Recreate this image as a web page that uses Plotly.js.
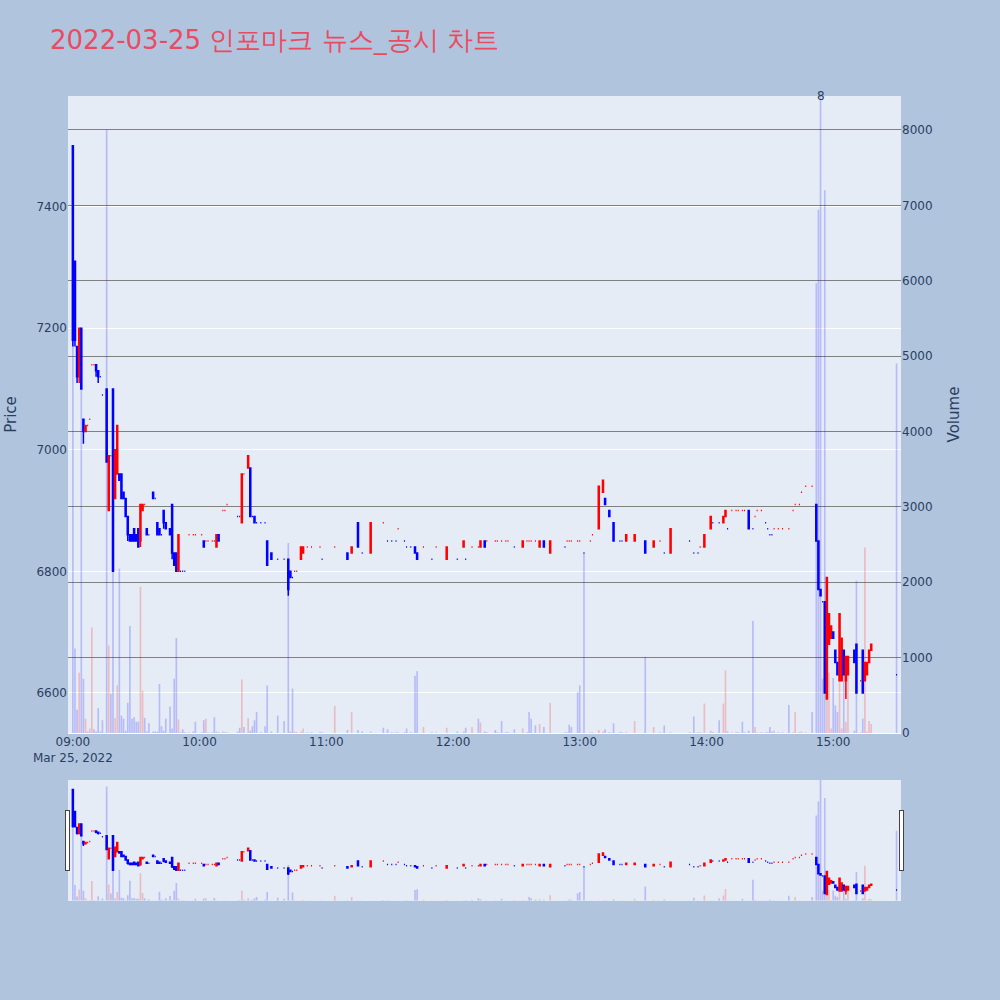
<!DOCTYPE html>
<html>
<head>
<meta charset="utf-8">
<script src="https://cdn.plot.ly/plotly-3.0.1.min.js"></script>
<style>html,body{margin:0;padding:0;background:#b0c4de}</style>
</head>
<body>
<div id="chart" style="width:1000px;height:1000px"></div>
<script>
// 1-minute bars, 2022-03-25
const day = '2022-03-25 ';

const times = [
  '09:00','09:01','09:02','09:03','09:04','09:05','09:06','09:07','09:08','09:09',
  '09:10','09:11','09:12','09:13','09:14','09:16','09:17','09:18','09:19','09:20',
  '09:21','09:22','09:23','09:24','09:25','09:26','09:27','09:28','09:29','09:30',
  '09:31','09:32','09:33','09:34','09:35','09:36','09:38','09:39','09:40','09:41',
  '09:42','09:43','09:44','09:46','09:47','09:48','09:49','09:50','09:51','09:52',
  '09:53','09:55','09:57','09:58','10:01','10:02','10:03','10:04','10:06','10:07',
  '10:08','10:09','10:11','10:12','10:13','10:18','10:19','10:20','10:21','10:23',
  '10:24','10:25','10:26','10:27','10:29','10:31','10:32','10:34','10:37','10:40',
  '10:42','10:43','10:44','10:45','10:46','10:48','10:49','10:51','10:53','10:57',
  '10:58','11:04','11:10','11:12','11:15','11:17','11:21','11:27','11:29','11:31',
  '11:33','11:34','11:37','11:38','11:40','11:42','11:43','11:46','11:50','11:52',
  '11:57','12:02','12:05','12:06','12:09','12:12','12:13','12:15','12:16','12:20',
  '12:21','12:23','12:25','12:26','12:29','12:33','12:35','12:36','12:37','12:39',
  '12:41','12:43','12:46','12:53','12:54','12:55','12:56','12:59','13:00','13:02',
  '13:05','13:06','13:09','13:11','13:12','13:14','13:16','13:19','13:20','13:22',
  '13:26','13:31','13:35','13:38','13:40','13:43','13:52','13:54','13:56','13:57',
  '13:59','14:02','14:03','14:06','14:08','14:09','14:10','14:12','14:14','14:15',
  '14:17','14:18','14:20','14:22','14:23','14:24','14:26','14:28','14:29','14:30',
  '14:31','14:32','14:34','14:36','14:39','14:41','14:42','14:44','14:45','14:47',
  '14:50','14:52','14:53','14:54','14:55','14:56','14:57','14:58','14:59','15:00',
  '15:01','15:02','15:03','15:04','15:05','15:06','15:07','15:10','15:11','15:13',
  '15:14','15:15','15:16','15:17','15:18','15:30'
];

const opens = [
  7500,7310,7170,7120,7200,7050,7030,7040,7050,7140,
  7140,7140,7130,7120,7090,7100,6900,6990,7100,6920,
  6960,6960,6960,6930,6920,6890,6860,6860,6870,6860,
  6870,6850,6900,6910,6870,6860,6930,6920,6880,6870,
  6860,6900,6880,6870,6910,6830,6830,6800,6800,6800,
  6800,6860,6860,6860,6860,6850,6850,6850,6850,6850,
  6840,6860,6900,6900,6910,6890,6890,6880,6960,6970,
  6970,6890,6890,6880,6880,6880,6850,6830,6820,6820,
  6820,6800,6790,6800,6800,6820,6830,6840,6840,6840,
  6820,6840,6830,6830,6880,6830,6830,6880,6850,6850,
  6850,6870,6850,6840,6840,6840,6830,6840,6820,6840,
  6820,6820,6840,6820,6840,6840,6840,6850,6850,6850,
  6850,6850,6850,6850,6840,6840,6850,6850,6850,6850,
  6840,6850,6830,6840,6850,6850,6850,6850,6850,6830,
  6850,6860,6870,6930,6920,6900,6880,6850,6850,6850,
  6850,6850,6840,6850,6830,6830,6850,6830,6830,6840,
  6840,6870,6880,6880,6880,6890,6870,6900,6900,6900,
  6900,6900,6900,6870,6890,6900,6900,6880,6870,6860,
  6860,6870,6870,6870,6870,6900,6910,6910,6930,6940,
  6940,6910,6850,6770,6750,6750,6590,6680,6690,6700,
  6670,6650,6620,6620,6670,6620,6630,6670,6680,6620,
  6670,6620,6630,6650,6670,6630
];

const highs = [
  7500,7310,7170,7200,7200,7050,7040,7040,7050,7140,
  7140,7140,7130,7120,7090,7100,6990,6990,7100,7000,
  7040,6960,6960,6930,6920,6890,6860,6860,6870,6860,
  6870,6910,6910,6910,6870,6860,6930,6920,6880,6870,
  6860,6900,6880,6870,6910,6830,6830,6860,6800,6800,
  6800,6860,6860,6860,6860,6850,6850,6850,6850,6850,
  6860,6860,6900,6900,6910,6890,6890,6960,6960,6990,
  6970,6890,6890,6880,6880,6880,6850,6830,6820,6820,
  6820,6800,6790,6800,6800,6840,6840,6840,6840,6840,
  6820,6840,6830,6840,6880,6830,6880,6880,6850,6850,
  6850,6870,6850,6840,6840,6840,6830,6840,6820,6840,
  6840,6820,6850,6820,6840,6840,6850,6850,6850,6850,
  6850,6850,6850,6850,6840,6850,6850,6850,6850,6850,
  6850,6850,6850,6840,6850,6850,6850,6850,6850,6830,
  6850,6860,6940,6950,6920,6900,6880,6850,6850,6860,
  6860,6850,6850,6850,6830,6870,6850,6830,6830,6840,
  6860,6890,6880,6880,6890,6900,6870,6900,6900,6900,
  6900,6900,6900,6870,6890,6900,6900,6880,6870,6860,
  6860,6870,6870,6870,6870,6900,6910,6910,6930,6940,
  6940,6910,6850,6770,6750,6750,6790,6730,6710,6700,
  6670,6650,6730,6690,6670,6660,6660,6670,6680,6620,
  6670,6650,6650,6670,6680,6630
];

const lows = [
  7170,7170,7110,7110,7100,7010,7030,7040,7050,7140,
  7140,7120,7110,7120,7090,6980,6900,6990,6800,6920,
  6960,6950,6920,6920,6890,6850,6850,6850,6850,6850,
  6840,6840,6900,6910,6860,6860,6920,6920,6860,6860,
  6860,6870,6870,6860,6820,6810,6800,6800,6800,6800,
  6800,6860,6860,6860,6860,6840,6850,6850,6850,6850,
  6840,6850,6900,6900,6910,6890,6890,6880,6960,6970,
  6890,6890,6880,6880,6880,6880,6810,6820,6820,6820,
  6760,6790,6790,6800,6800,6820,6830,6840,6840,6840,
  6820,6840,6820,6830,6840,6830,6830,6880,6850,6850,
  6850,6870,6850,6840,6840,6830,6820,6840,6820,6840,
  6820,6820,6840,6820,6840,6840,6840,6840,6850,6850,
  6850,6850,6850,6850,6840,6840,6850,6850,6850,6850,
  6840,6840,6830,6840,6850,6850,6850,6850,6850,6830,
  6850,6860,6870,6930,6910,6890,6850,6850,6850,6850,
  6850,6830,6840,6850,6830,6830,6850,6830,6830,6840,
  6840,6870,6880,6880,6880,6890,6870,6900,6900,6900,
  6900,6900,6870,6870,6890,6900,6900,6880,6870,6860,
  6860,6870,6870,6870,6870,6900,6910,6910,6930,6940,
  6940,6850,6770,6760,6750,6600,6590,6680,6690,6690,
  6650,6630,6620,6620,6630,6590,6630,6650,6600,6620,
  6600,6620,6630,6650,6670,6630
];

const closes = [
  7180,7180,7120,7200,7100,7030,7040,7040,7050,7140,
  7140,7130,7120,7120,7090,6980,6990,6990,6800,7000,
  7040,6950,6920,6920,6890,6860,6850,6850,6850,6850,
  6840,6910,6910,6910,6860,6860,6920,6920,6860,6860,
  6860,6880,6870,6860,6830,6810,6800,6860,6800,6800,
  6800,6860,6860,6860,6860,6840,6850,6850,6850,6850,
  6860,6850,6900,6900,6910,6890,6890,6960,6960,6990,
  6890,6890,6880,6880,6880,6880,6810,6820,6820,6820,
  6770,6790,6790,6800,6800,6840,6840,6840,6840,6840,
  6820,6840,6820,6840,6840,6830,6880,6880,6850,6850,
  6850,6870,6850,6840,6840,6830,6820,6840,6820,6840,
  6840,6820,6850,6820,6840,6840,6850,6840,6850,6850,
  6850,6850,6850,6850,6840,6850,6850,6850,6850,6850,
  6850,6840,6850,6840,6850,6850,6850,6850,6850,6830,
  6850,6860,6940,6950,6910,6890,6850,6850,6850,6860,
  6860,6830,6850,6850,6830,6870,6850,6830,6830,6840,
  6860,6890,6880,6880,6890,6900,6870,6900,6900,6900,
  6900,6900,6870,6870,6890,6900,6900,6880,6870,6860,
  6860,6870,6870,6870,6870,6900,6910,6910,6930,6940,
  6940,6850,6770,6760,6750,6600,6790,6730,6710,6690,
  6650,6630,6730,6690,6630,6660,6660,6650,6600,6620,
  6600,6650,6650,6670,6680,6630
];

const volumes = [
  5300,1120,310,800,4600,720,190,20,60,1400,
  50,20,330,20,170,8000,1160,520,2500,200,
  630,2180,230,190,30,400,1420,190,210,150,
  150,1940,560,200,20,130,20,20,20,650,
  90,30,190,350,60,720,1260,180,10,50,
  10,10,20,150,10,170,190,10,10,210,
  20,10,20,10,10,20,70,710,80,200,
  30,90,170,280,10,90,630,20,230,160,
  2520,20,590,20,10,20,60,10,10,10,
  10,360,40,280,40,20,20,70,50,10,
  10,10,10,60,10,760,820,80,10,10,
  70,20,20,70,80,190,140,20,10,40,
  10,160,10,10,50,60,10,280,190,100,
  120,80,400,10,10,110,80,540,630,2380,
  10,10,40,20,50,10,130,10,10,10,
  160,1010,80,10,100,10,10,220,10,10,
  390,30,10,170,390,830,20,10,10,10,
  150,10,30,1490,80,10,10,10,10,80,
  20,30,10,10,370,10,280,10,20,10,
  280,5970,6940,9800,720,7200,1160,800,60,730,
  365,280,820,60,900,150,800,30,2020,10,
  190,2460,20,160,120,4900
];

const x = times.map(t => day + t);

// volume colour follows the candle direction (doji -> vs previous close)
const volColors = closes.map((c, i) => {
  const o = opens[i];
  const prev = i > 0 ? closes[i - 1] : o;
  const up = c > o || (c === o && c > prev);
  return up ? 'rgba(255,0,0,0.2)' : 'rgba(0,0,255,0.2)';
});

const priceTrace = {
  type: 'candlestick',
  x: x,
  open: opens,
  high: highs,
  low: lows,
  close: closes,
  yaxis: 'y',
  increasing: { line: { color: 'red', width: 1.5 }, fillcolor: 'red' },
  decreasing: { line: { color: 'blue', width: 1.5 }, fillcolor: 'blue' },
  showlegend: false,
  name: 'Price'
};

const volumeTrace = {
  type: 'bar',
  x: x,
  y: volumes,
  yaxis: 'y2',
  marker: { color: volColors, line: { width: 0 } },
  showlegend: false,
  name: 'Volume'
};

const xRange = ['2022-03-25 08:57:42', '2022-03-25 15:32:06'];

const layout = {
  width: 1000,
  height: 1000,
  paper_bgcolor: '#b0c4de',
  plot_bgcolor: '#e5ecf6',
  margin: { l: 68, r: 99, t: 96, b: 100 },
  font: { family: 'DejaVu Sans, Verdana, sans-serif', color: '#2a3f5f' },
  title: {
    text: '2022-03-25 인포마크 뉴스_공시 차트',
    font: { size: 26, color: '#eb4b62' },
    x: 0.05,
    xanchor: 'left',
    y: 0.96,
    yanchor: 'middle'
  },
  xaxis: {
    type: 'date',
    range: xRange,
    showgrid: false,
    rangeslider: { visible: true, thickness: 0.15, range: xRange }
  },
  yaxis: {
    title: { text: 'Price', font: { size: 15 }, standoff: 16 },
    range: [6534, 7582],
    gridcolor: 'white',
    zeroline: false
  },
  yaxis2: {
    title: { text: 'Volume', font: { size: 15 }, standoff: 16 },
    overlaying: 'y',
    side: 'right',
    range: [0, 8450],
    gridcolor: 'gray',
    gridwidth: 1,
    zerolinecolor: 'white'
  },
  annotations: [{
    x: day + '14:54',
    y: 1,
    xref: 'x',
    yref: 'paper',
    text: '8',
    showarrow: false,
    yanchor: 'middle',
    font: { size: 12, color: '#2a3f5f' }
  }]
};

Plotly.newPlot('chart', [priceTrace, volumeTrace], layout, { displayModeBar: false });
</script>
</body>
</html>
